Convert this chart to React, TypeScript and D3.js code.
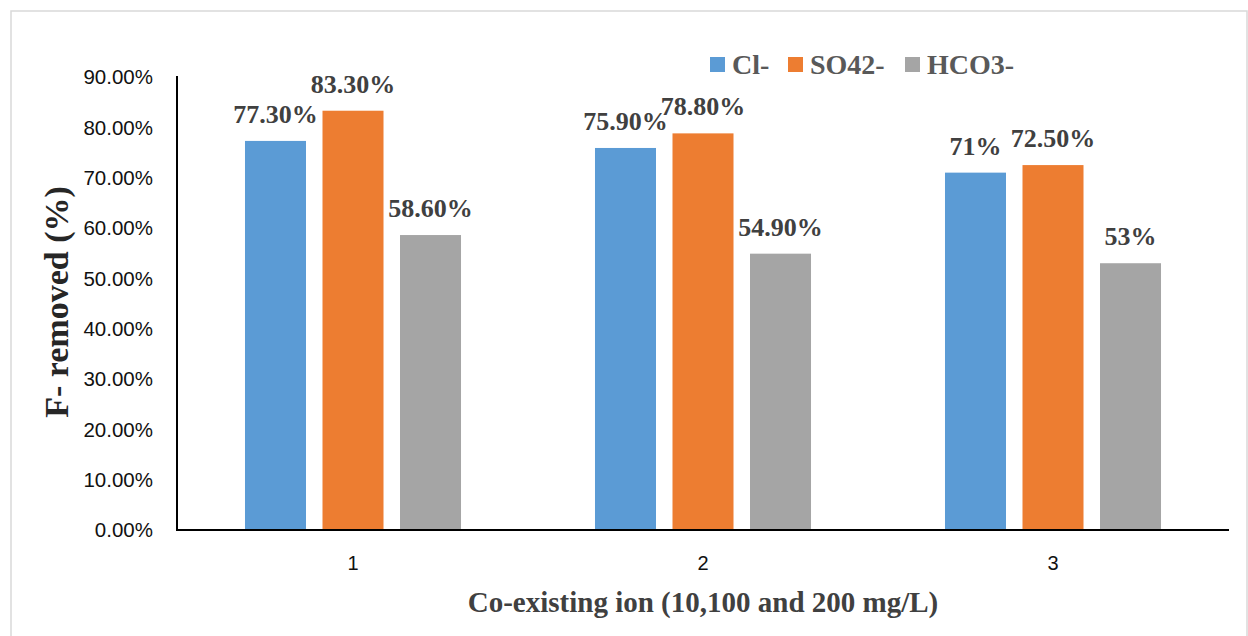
import React from "react";
import * as d3 from "d3";

// Co-existing ion concentration levels (x categories)
const levels = ["1", "2", "3"];
// Ion series names
const ions = ["Cl-", "SO42-", "HCO3-"];
// Fluoride removal (%) per ion, one value per level
const clValues = [77.3, 75.9, 71.0];
const so4Values = [83.3, 78.8, 72.5];
const hco3Values = [58.6, 54.9, 53.0];
// Label text shown above each bar
const clLabels = ["77.30%", "75.90%", "71%"];
const so4Labels = ["83.30%", "78.80%", "72.50%"];
const hco3Labels = ["58.60%", "54.90%", "53%"];
// Y-axis ticks
const yTicks = [0, 10, 20, 30, 40, 50, 60, 70, 80, 90];

const colors = ["#5B9BD5", "#ED7D31", "#A5A5A5"];

const W = 1248;
const H = 636;
const left = 178;
const right = 1228;
const top = 77;
const bottom = 530;

export default function App() {
  const series = [clValues, so4Values, hco3Values];
  const labels = [clLabels, so4Labels, hco3Labels];

  const y = d3.scaleLinear().domain([0, 90]).range([bottom, top]);
  const x0 = d3.scaleBand<string>().domain(levels).range([left, right]).padding(0);
  const bw = x0.bandwidth();
  const x1 = d3
    .scaleBand<string>()
    .domain(ions)
    .range([bw * 0.1914, bw * (1 - 0.1914)])
    .paddingInner(0.213)
    .paddingOuter(0);

  const serif = "'Liberation Serif', 'Times New Roman', serif";
  const sans = "'Liberation Sans', Arial, sans-serif";

  // legend layout
  const legendX = [710, 788, 905];
  const legendY = 57;

  return (
    <svg
      width={W}
      height={H}
      style={{ position: "absolute", left: 0, top: 0, background: "#fff" }}
    >
      <rect x={11} y={11} width={1236} height={640} fill="#fff" stroke="#d9d9d9" strokeWidth={1.5} />

      {/* bars */}
      {levels.map((lv, i) => (
        <g key={lv} transform={`translate(${x0(lv)},0)`}>
          {ions.map((ion, s) => {
            const v = series[s][i];
            const bx = x1(ion) as number;
            const by = y(v);
            return (
              <g key={ion}>
                <rect x={bx} y={by} width={x1.bandwidth()} height={bottom - by} fill={colors[s]} />
                <text
                  x={bx + x1.bandwidth() / 2}
                  y={by - 18}
                  textAnchor="middle"
                  fontFamily={serif}
                  fontWeight="bold"
                  fontSize={26}
                  fill="#404040"
                >
                  {labels[s][i]}
                </text>
              </g>
            );
          })}
        </g>
      ))}

      {/* axes */}
      <line x1={left - 1} x2={left - 1} y1={top - 1} y2={bottom + 1} stroke="#000" strokeWidth={2} />
      <line x1={left - 2} x2={right + 1} y1={bottom} y2={bottom} stroke="#000" strokeWidth={2} />

      {yTicks.map((t) => (
        <text
          key={t}
          x={153}
          y={y(t)}
          dy="0.35em"
          textAnchor="end"
          fontFamily={sans}
          fontSize={20.5}
          fill="#111"
        >
          {t.toFixed(2) + "%"}
        </text>
      ))}

      {levels.map((lv) => (
        <text
          key={lv}
          x={(x0(lv) as number) + bw / 2}
          y={563}
          dy="0.35em"
          textAnchor="middle"
          fontFamily={sans}
          fontSize={20}
          fill="#111"
        >
          {lv}
        </text>
      ))}

      {/* axis titles */}
      <text
        x={(left + right) / 2}
        y={612}
        textAnchor="middle"
        fontFamily={serif}
        fontWeight="bold"
        fontSize={29}
        fill="#404040"
      >
        Co-existing ion (10,100 and 200 mg/L)
      </text>
      <text
        transform={`translate(68,302) rotate(-90)`}
        textAnchor="middle"
        fontFamily={serif}
        fontWeight="bold"
        fontSize={34}
        fill="#262626"
      >
        F- removed (%)
      </text>

      {/* legend */}
      {ions.map((ion, s) => (
        <g key={ion}>
          <rect x={legendX[s]} y={legendY} width={15} height={15} fill={colors[s]} />
          <text
            x={legendX[s] + 22}
            y={legendY + 17}
            fontFamily={serif}
            fontWeight="bold"
            fontSize={28}
            fill="#595959"
          >
            {ion}
          </text>
        </g>
      ))}
    </svg>
  );
}
